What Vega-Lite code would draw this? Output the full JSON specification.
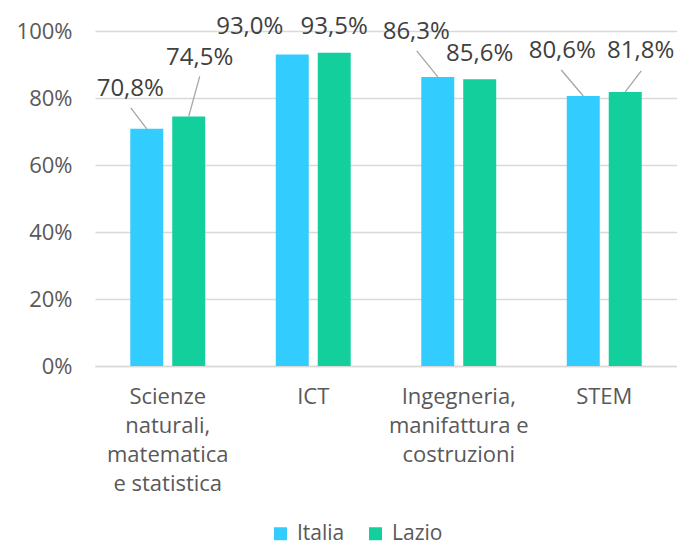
{
  "$schema": "https://vega.github.io/schema/vega-lite/v6.json",
  "width": 582,
  "height": 335,
  "autosize": {"type": "none"},
  "padding": {"left": 95, "top": 31, "right": 0, "bottom": 180},
  "background": "#ffffff",
  "config": {
    "font": "Open Sans",
    "view": {"stroke": null},
    "locale": {"number": {"decimal": ",", "thousands": ".", "grouping": [3], "currency": ["€", ""]}}
  },
  "data": {
    "values": [
      {"categoria": "Scienze naturali, matematica e statistica", "serie": "Italia", "valore": 0.708},
      {"categoria": "Scienze naturali, matematica e statistica", "serie": "Lazio", "valore": 0.745},
      {"categoria": "ICT", "serie": "Italia", "valore": 0.930},
      {"categoria": "ICT", "serie": "Lazio", "valore": 0.935},
      {"categoria": "Ingegneria, manifattura e costruzioni", "serie": "Italia", "valore": 0.863},
      {"categoria": "Ingegneria, manifattura e costruzioni", "serie": "Lazio", "valore": 0.856},
      {"categoria": "STEM", "serie": "Italia", "valore": 0.806},
      {"categoria": "STEM", "serie": "Lazio", "valore": 0.818}
    ]
  },
  "encoding": {
    "x": {
      "field": "categoria", "type": "nominal", "sort": null,
      "scale": {"paddingInner": 0.485, "paddingOuter": 0.2425},
      "axis": {
        "title": null, "labelAngle": 0, "ticks": false,
        "domain": true, "domainColor": "#D9D9D9", "domainWidth": 1.5,
        "labelFontSize": 22, "labelColor": "#595959", "labelLineHeight": 29, "labelPadding": 20,
        "labelExpr": "datum.label == 'Scienze naturali, matematica e statistica' ? ['Scienze', 'naturali,', 'matematica', 'e statistica'] : datum.label == 'Ingegneria, manifattura e costruzioni' ? ['Ingegneria,', 'manifattura e', 'costruzioni'] : datum.label"
      }
    },
    "xOffset": {
      "field": "serie", "type": "nominal", "sort": ["Italia", "Lazio"],
      "scale": {"paddingInner": 0.214, "paddingOuter": 0}
    },
    "y": {
      "field": "valore", "type": "quantitative",
      "scale": {"domain": [0, 1], "nice": false},
      "axis": {
        "title": null, "values": [0, 0.2, 0.4, 0.6, 0.8, 1], "format": ".0%",
        "domain": false, "ticks": false, "grid": true, "gridColor": "#D9D9D9", "gridWidth": 1.5,
        "labelFontSize": 22, "labelColor": "#595959", "labelPadding": 23
      }
    }
  },
  "layer": [
    {
      "mark": {"type": "bar"},
      "encoding": {
        "color": {
          "field": "serie", "type": "nominal",
          "scale": {"domain": ["Italia", "Lazio"], "range": ["#33CCFF", "#12CF9C"]},
          "legend": {
            "title": null, "orient": "none", "direction": "horizontal",
            "legendX": 175, "legendY": 492,
            "symbolType": "square", "symbolSize": 169, "symbolStrokeWidth": 0,
            "labelFontSize": 21, "labelColor": "#595959", "labelOffset": 6, "columnPadding": 20
          }
        }
      }
    },
    {
      "transform": [{"filter": {"and": [{"field": "categoria", "equal": "Scienze naturali, matematica e statistica"}, {"field": "serie", "equal": "Italia"}]}}],
      "mark": {"type": "point", "shape": "M0,0L-16,-21", "size": 4, "filled": false, "stroke": "#A6A6A6", "strokeWidth": 1.3, "opacity": 1}
    },
    {
      "transform": [{"filter": {"and": [{"field": "categoria", "equal": "Scienze naturali, matematica e statistica"}, {"field": "serie", "equal": "Lazio"}]}}],
      "mark": {"type": "point", "shape": "M0,0L11,-40", "size": 4, "filled": false, "stroke": "#A6A6A6", "strokeWidth": 1.3, "opacity": 1}
    },
    {
      "transform": [{"filter": {"and": [{"field": "categoria", "equal": "Ingegneria, manifattura e costruzioni"}, {"field": "serie", "equal": "Italia"}]}}],
      "mark": {"type": "point", "shape": "M0,0L-21,-26", "size": 4, "filled": false, "stroke": "#A6A6A6", "strokeWidth": 1.3, "opacity": 1}
    },
    {
      "transform": [{"filter": {"and": [{"field": "categoria", "equal": "STEM"}, {"field": "serie", "equal": "Italia"}]}}],
      "mark": {"type": "point", "shape": "M0,0L-22,-26", "size": 4, "filled": false, "stroke": "#A6A6A6", "strokeWidth": 1.3, "opacity": 1}
    },
    {
      "transform": [{"filter": {"and": [{"field": "categoria", "equal": "STEM"}, {"field": "serie", "equal": "Lazio"}]}}],
      "mark": {"type": "point", "shape": "M0,0L16,-21", "size": 4, "filled": false, "stroke": "#A6A6A6", "strokeWidth": 1.3, "opacity": 1}
    },
    {
      "transform": [{"filter": {"and": [{"field": "categoria", "equal": "Scienze naturali, matematica e statistica"}, {"field": "serie", "equal": "Italia"}]}}],
      "mark": {"type": "text", "dx": -16.5, "dy": -40, "baseline": "middle", "align": "center", "fontSize": 24, "color": "#404040"},
      "encoding": {"text": {"field": "valore", "type": "quantitative", "format": ".1%"}}
    },
    {
      "transform": [{"filter": {"and": [{"field": "categoria", "equal": "Scienze naturali, matematica e statistica"}, {"field": "serie", "equal": "Lazio"}]}}],
      "mark": {"type": "text", "dx": 11, "dy": -58, "baseline": "middle", "align": "center", "fontSize": 24, "color": "#404040"},
      "encoding": {"text": {"field": "valore", "type": "quantitative", "format": ".1%"}}
    },
    {
      "transform": [{"filter": {"and": [{"field": "categoria", "equal": "ICT"}, {"field": "serie", "equal": "Italia"}]}}],
      "mark": {"type": "text", "dx": -42.5, "dy": -27.5, "baseline": "middle", "align": "center", "fontSize": 24, "color": "#404040"},
      "encoding": {"text": {"field": "valore", "type": "quantitative", "format": ".1%"}}
    },
    {
      "transform": [{"filter": {"and": [{"field": "categoria", "equal": "ICT"}, {"field": "serie", "equal": "Lazio"}]}}],
      "mark": {"type": "text", "dx": 0, "dy": -26, "baseline": "middle", "align": "center", "fontSize": 24, "color": "#404040"},
      "encoding": {"text": {"field": "valore", "type": "quantitative", "format": ".1%"}}
    },
    {
      "transform": [{"filter": {"and": [{"field": "categoria", "equal": "Ingegneria, manifattura e costruzioni"}, {"field": "serie", "equal": "Italia"}]}}],
      "mark": {"type": "text", "dx": -21.5, "dy": -44.5, "baseline": "middle", "align": "center", "fontSize": 24, "color": "#404040"},
      "encoding": {"text": {"field": "valore", "type": "quantitative", "format": ".1%"}}
    },
    {
      "transform": [{"filter": {"and": [{"field": "categoria", "equal": "Ingegneria, manifattura e costruzioni"}, {"field": "serie", "equal": "Lazio"}]}}],
      "mark": {"type": "text", "dx": 0, "dy": -25, "baseline": "middle", "align": "center", "fontSize": 24, "color": "#404040"},
      "encoding": {"text": {"field": "valore", "type": "quantitative", "format": ".1%"}}
    },
    {
      "transform": [{"filter": {"and": [{"field": "categoria", "equal": "STEM"}, {"field": "serie", "equal": "Italia"}]}}],
      "mark": {"type": "text", "dx": -21, "dy": -44.5, "baseline": "middle", "align": "center", "fontSize": 24, "color": "#404040"},
      "encoding": {"text": {"field": "valore", "type": "quantitative", "format": ".1%"}}
    },
    {
      "transform": [{"filter": {"and": [{"field": "categoria", "equal": "STEM"}, {"field": "serie", "equal": "Lazio"}]}}],
      "mark": {"type": "text", "dx": 15.5, "dy": -40.5, "baseline": "middle", "align": "center", "fontSize": 24, "color": "#404040"},
      "encoding": {"text": {"field": "valore", "type": "quantitative", "format": ".1%"}}
    }
  ]
}
